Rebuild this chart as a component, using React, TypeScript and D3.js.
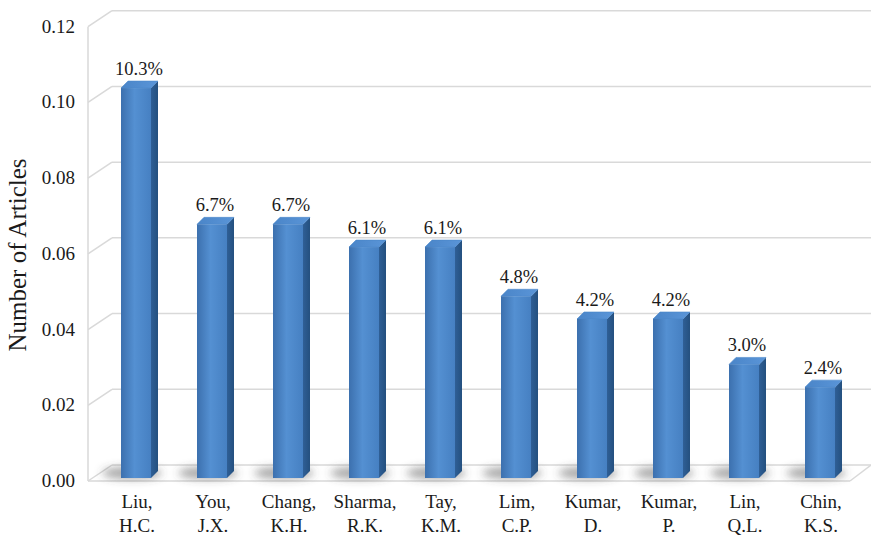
import React from "react";
import * as d3 from "d3";

const authors = ["Liu, H.C.", "You, J.X.", "Chang, K.H.", "Sharma, R.K.", "Tay, K.M.", "Lim, C.P.", "Kumar, D.", "Kumar, P.", "Lin, Q.L.", "Chin, K.S."];
const shares = [0.103, 0.067, 0.067, 0.061, 0.061, 0.048, 0.042, 0.042, 0.030, 0.024];
const yTicks = [0, 0.02, 0.04, 0.06, 0.08, 0.1, 0.12];
const yTitle = "Number of Articles";

const W = 871;
const H = 538;
const FONT = "'Liberation Serif', 'Times New Roman', serif";

// 3D box geometry: front plane, bar depth and back wall offsets
const FRONT_X = 88;
const WALL_DX = 24;
const WALL_DY = -16;
const BAR_W = 30;
const BAR_DX = 7;
const BAR_DY = -7;

export default function App() {
  const y = d3.scaleLinear().domain([0, 0.12]).range([478, 23.7]);
  const yFront = (v: number) => y(v) + 3;
  const yBack = (v: number) => y(v) + 3 + WALL_DY;
  const x = d3.scalePoint<string>().domain(authors).range([136, 820]);

  const floorFrontRight = 850;
  const wallRight = W;

  return (
    <svg width={W} height={H} style={{ position: "absolute", left: 0, top: 0, background: "#fff" }}>
      <defs>
        <linearGradient id="faceGrad" x1="0" x2="1" y1="0" y2="0">
          <stop offset="0" stopColor="#3c70ae" />
          <stop offset="0.45" stopColor="#5490d2" />
          <stop offset="1" stopColor="#4680c2" />
        </linearGradient>
        <linearGradient id="sideGrad" x1="0" x2="1" y1="0" y2="0">
          <stop offset="0" stopColor="#2f5f96" />
          <stop offset="1" stopColor="#24507f" />
        </linearGradient>
        <linearGradient id="topGrad" x1="0" x2="1" y1="0" y2="0">
          <stop offset="0" stopColor="#4a85c8" />
          <stop offset="1" stopColor="#5a95d8" />
        </linearGradient>
        <filter id="shadowBlur" x="-50%" y="-100%" width="200%" height="300%">
          <feGaussianBlur stdDeviation="4" />
        </filter>
      </defs>

      {/* back wall gridlines and left side wall */}
      <g stroke="#d9d9d9" strokeWidth={1.5} fill="none">
        {yTicks.map((t) => (
          <g key={t}>
            <line x1={FRONT_X + WALL_DX} x2={wallRight} y1={yBack(t)} y2={yBack(t)} />
            <line x1={FRONT_X} x2={FRONT_X + WALL_DX} y1={yFront(t)} y2={yBack(t)} />
          </g>
        ))}
        <line x1={FRONT_X} x2={FRONT_X} y1={yFront(0.12)} y2={yFront(0)} />
        {/* floor front edge */}
        <line x1={FRONT_X} x2={floorFrontRight} y1={yFront(0)} y2={yFront(0)} />
        <line x1={floorFrontRight} x2={wallRight} y1={yFront(0)} y2={yBack(0)} />
      </g>

      {/* soft floor shadows under the bars */}
      <g filter="url(#shadowBlur)">
        {shares.map((v, i) => {
          const cx = (x(authors[i]) as number) - 4;
          return <ellipse key={i} cx={cx} cy={y(0) - 5} rx={30} ry={6} fill="#4a4a4a" opacity={0.5} />;
        })}
      </g>

      {/* bars */}
      {shares.map((v, i) => {
        const cx = x(authors[i]) as number;
        const x0 = cx - BAR_W / 2;
        const x1 = cx + BAR_W / 2;
        const yt = y(v);
        const yb = y(0);
        const top = `M${x0},${yt} L${x0 + BAR_DX},${yt + BAR_DY} L${x1 + BAR_DX},${yt + BAR_DY} L${x1},${yt} Z`;
        const side = `M${x1},${yt} L${x1 + BAR_DX},${yt + BAR_DY} L${x1 + BAR_DX},${yb + BAR_DY} L${x1},${yb} Z`;
        return (
          <g key={i}>
            <path d={side} fill="url(#sideGrad)" />
            <path d={top} fill="url(#topGrad)" stroke="#4a86c9" strokeWidth={0.6} strokeLinejoin="round" />
            <rect x={x0} y={yt} width={BAR_W} height={yb - yt} fill="url(#faceGrad)" />
          </g>
        );
      })}

      {/* value labels */}
      <g fontFamily={FONT} fontSize={18.5} fill="#1a1a1a" textAnchor="middle">
        {shares.map((v, i) => (
          <text key={i} x={(x(authors[i]) as number) + 3} y={y(v) - 13}>
            {(v * 100).toFixed(1) + "%"}
          </text>
        ))}
      </g>

      {/* y tick labels */}
      <g fontFamily={FONT} fontSize={19} fill="#1a1a1a" textAnchor="end">
        {yTicks.map((t) => (
          <text key={t} x={75} y={yFront(t) + 6}>
            {d3.format(".2f")(t)}
          </text>
        ))}
      </g>

      {/* category labels */}
      <g fontFamily={FONT} fontSize={19} fill="#1a1a1a" textAnchor="middle">
        {authors.map((a, i) => {
          const [l1, l2] = a.split(" ");
          const cx = (x(a) as number) + 1;
          return (
            <text key={a} x={cx} y={508}>
              <tspan x={cx}>{l1}</tspan>
              <tspan x={cx} dy={24}>{l2}</tspan>
            </text>
          );
        })}
      </g>

      <text
        transform={`translate(26,255) rotate(-90)`}
        textAnchor="middle"
        fontFamily={FONT}
        fontSize={25}
        fill="#1a1a1a"
      >
        {yTitle}
      </text>
    </svg>
  );
}
